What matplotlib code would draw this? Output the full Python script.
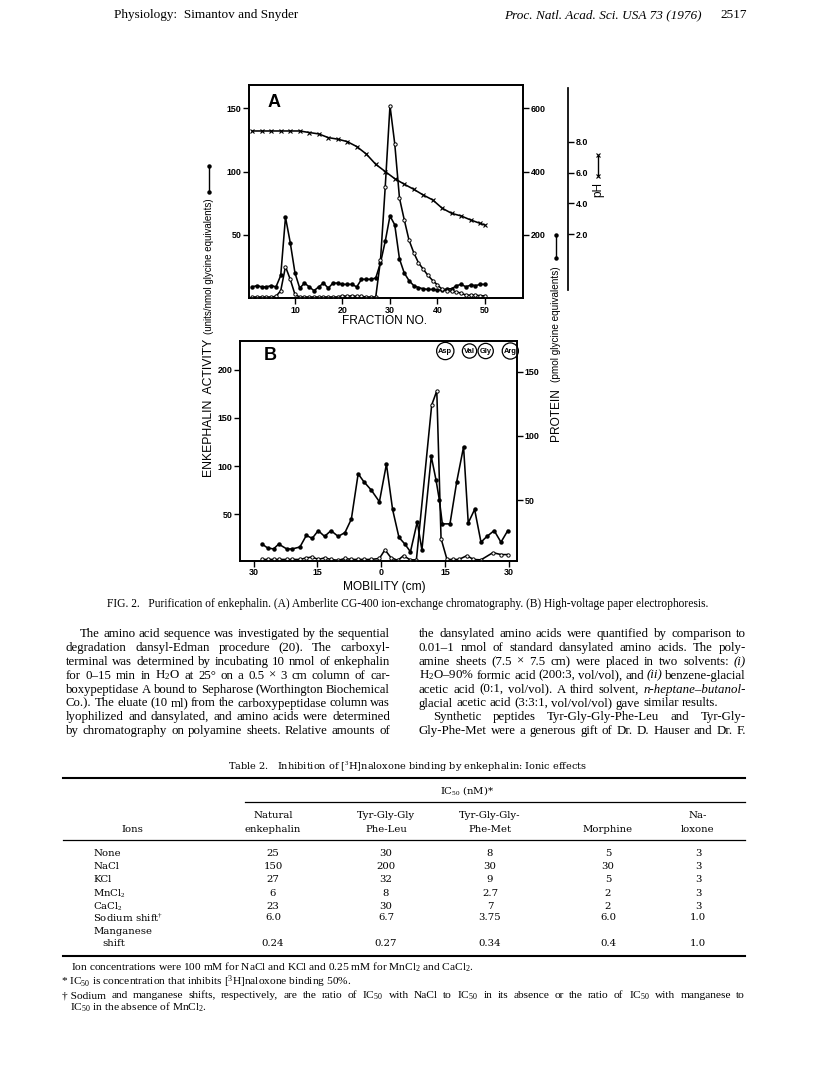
import matplotlib
matplotlib.use("Agg")
import matplotlib.pyplot as plt
from matplotlib.lines import Line2D

plt.rcParams['font.family'] = ['Liberation Sans', 'DejaVu Sans']
plt.rcParams['mathtext.fontset'] = 'custom'
plt.rcParams['mathtext.rm'] = 'Liberation Serif'
plt.rcParams['mathtext.it'] = 'Liberation Serif:italic'
plt.rcParams['mathtext.bf'] = 'Liberation Serif:bold'

# ---------------- data: panel A (ion-exchange chromatography) ----------------
fraction = list(range(1, 51))
enk_A = [9, 10, 9, 9, 10, 9, 18, 64, 44, 20,
         8, 12, 9, 6, 9, 12, 8, 12, 12, 11,
         11, 11, 9, 15, 15, 15, 16, 28, 45, 65,
         58, 31, 20, 14, 10, 8.5, 7.5, 7, 7, 6.5,
         6.5, 7.5, 7.5, 10, 11, 9, 10.5, 10, 11, 11]
prot_A_pmol = [4, 4, 4, 4, 4, 6, 24, 100, 60, 12,
               4, 4, 4, 4, 4, 4, 4, 4, 4, 8,
               6, 8, 6, 6, 4, 4, 4, 120, 352, 608,
               488, 316, 248, 184, 144, 112, 92, 72, 56, 42,
               28, 24, 22, 20, 16, 10, 10, 10, 8, 8]
ph_frac = [1, 3, 5, 7, 9, 11, 13, 15, 17, 19, 21, 23, 25, 27, 29,
           31, 33, 35, 37, 39, 41, 43, 45, 47, 49, 50]
ph_vals = [8.70, 8.70, 8.70, 8.70, 8.70, 8.70, 8.60, 8.51, 8.27, 8.17,
           8.01, 7.69, 7.21, 6.54, 6.07, 5.61, 5.25, 4.92, 4.55, 4.23,
           3.69, 3.36, 3.19, 2.93, 2.71, 2.60]

# ---------------- data: panel B (paper electrophoresis) ----------------
mob_enk = [-28, -26.7, -25.3, -24.1, -22.2, -20.9, -19.1, -17.6, -16.2, -14.8,
           -13.3, -11.8, -10.1, -8.5, -7, -5.4, -4.1, -2.3, -0.4, 1.25,
           2.7, 4.2, 5.6, 6.9, 8.5, 9.6, 11.8, 12.9, 13.7, 14.4,
           16.2, 17.8, 19.4, 20.5, 22.0, 23.5, 24.9, 26.6, 28.2, 29.8]
enk_B = [19, 15, 14, 19, 14, 14, 16, 28, 25, 33,
         27, 33, 27, 31, 45, 92, 84, 75, 63, 102,
         55, 26, 19, 11, 42, 13, 110, 86, 65, 40,
         40, 84, 120, 41, 55, 21, 27, 33, 21, 33]
mob_prot = [-28, -26.7, -25.3, -24.1, -22.2, -20.9, -19.1, -17.6, -16.2, -14.8,
            -13.3, -11.8, -10.1, -8.5, -7, -5.4, -4.1, -2.3, -0.4, 0.9,
            2.3, 3.9, 5.3, 6.8, 8.3, 11.9, 13.1, 14.1, 15.5, 16.9,
            18.3, 20.2, 21.7, 23.5, 26.3, 28.2, 29.8]
prot_B_pmol = [3.7, 3.7, 3.7, 3.7, 3.7, 3.7, 3.7, 4.9, 5.6, 3.7,
               4.9, 3.7, 3.0, 4.5, 3.7, 3.7, 3.7, 3.7, 4.5, 11.2,
               5.2, 3.0, 6.7, 3.4, 3.4, 124, 135, 20, 3.7, 3.7,
               3.7, 6.7, 3.7, 3.4, 9.0, 7.5, 7.5]
amino_names = ['Asp', 'Val', 'Gly', 'Arg']
amino_mob = [15.1, 20.8, 24.6, 30.4]

# ---------------- data: table ----------------
ion_rows = ['None', 'NaCl', 'KCl', 'MnCl$_2$', 'CaCl$_2$', 'Sodium shift$^{\\dagger}$', 'shift']
col_heads = [('Natural', 'enkephalin'), ('Tyr-Gly-Gly', 'Phe-Leu'), ('Tyr-Gly-Gly-', 'Phe-Met'),
             ('', 'Morphine'), ('Na-', 'loxone')]
natural = ['25', '150', '27', '6', '23', '6.0', '0.24']
leu_enk = ['30', '200', '32', '8', '30', '6.7', '0.27']
met_enk = ['8', '30', '9', '2.7', '7', '3.75', '0.34']
morphine = ['5', '30', '5', '2', '2', '6.0', '0.4']
naloxone = ['3', '3', '3', '3', '3', '1.0', '1.0']

left_col = [
    "The amino acid sequence was investigated by the sequential",
    "degradation dansyl-Edman procedure (20). The carboxyl-",
    "terminal was determined by incubating 10 nmol of enkephalin",
    "for 0–15 min in H$_2$O at 25° on a 0.5 × 3 cm column of car-",
    "boxypeptidase A bound to Sepharose (Worthington Biochemical",
    "Co.). The eluate (10 ml) from the carboxypeptidase column was",
    "lyophilized and dansylated, and amino acids were determined",
    "by chromatography on polyamine sheets. Relative amounts of",
]
right_col = [
    "the dansylated amino acids were quantified by comparison to",
    "0.01–1 nmol of standard dansylated amino acids. The poly-",
    "amine sheets (7.5 × 7.5 cm) were placed in two solvents: §(i)",
    "H$_2$O–90% formic acid (200:3, vol/vol), and §(ii) benzene-glacial",
    "acetic acid (0:1, vol/vol). A third solvent, §n-heptane–butanol-",
    "glacial acetic acid (3:3:1, vol/vol/vol) gave similar results.",
    "Synthetic peptides Tyr-Gly-Gly-Phe-Leu and Tyr-Gly-",
    "Gly-Phe-Met were a generous gift of Dr. D. Hauser and Dr. F.",
]

# ---------------- figure ----------------
W, H = 816, 1076
fig = plt.figure(figsize=(W / 100, H / 100), dpi=100)
renderer = fig.canvas.get_renderer()


def fx(px):
    return px / W


def fy(py):
    return 1 - py / H


def rect(l, t, r, b):
    return [fx(l), fy(b), (r - l) / W, (b - t) / H]


SERIF = 'Liberation Serif'
TSERIF = 'DejaVu Serif'
TICKFS = 6.4
LW = 1.15


def style_axes(ax):
    for s in ax.spines.values():
        s.set_linewidth(1.25)
    ax.tick_params(direction='out', length=4, width=1.0, pad=1.5, labelsize=TICKFS)


# ---- Panel A ----
axA = fig.add_axes(rect(249, 85, 523, 298.3))
axA.set_xlim(0.32, 58.0)
axA.set_ylim(0, 168.3)
axA.plot(fraction, enk_A, color='k', lw=LW, marker='o', ms=2.2, mfc='k', mec='k')
axA.set_xticks([10, 20, 30, 40, 50], ['10', '20', '30', '40', '50'], fontweight='bold')
axA.set_yticks([50, 100, 150], ['50', '100', '150'], fontweight='bold')
style_axes(axA)

axA_r = axA.twinx()
axA_r.set_ylim(0, 673.3)
axA_r.plot(fraction, prot_A_pmol, color='k', lw=LW, marker='o', ms=2.4, mfc='white', mec='k', mew=0.7)
axA_r.set_yticks([200, 400, 600], ['200', '400', '600'], fontweight='bold')
style_axes(axA_r)

axA_ph = axA.twinx()
axA_ph.set_ylim(-2.145, 11.68)
axA_ph.plot(ph_frac, ph_vals, color='k', lw=LW, marker='x', ms=3.2, mew=0.8)
axA_ph.axis('off')

# pH scale
axPH = fig.add_axes(rect(540, 88, 568, 290))
axPH.set_ylim((265.2 - 290) / 15.43, (265.2 - 88) / 15.43)
for s in ['left', 'top', 'bottom']:
    axPH.spines[s].set_visible(False)
axPH.spines['right'].set_linewidth(1.25)
axPH.patch.set_visible(False)
axPH.set_xticks([])
axPH.yaxis.tick_right()
axPH.set_yticks([2, 4, 6, 8], ['2.0', '4.0', '6.0', '8.0'], fontweight='bold')
axPH.tick_params(direction='out', length=4, width=1.0, pad=1.5, labelsize=TICKFS)

# ---- Panel B ----
axB = fig.add_axes(rect(240, 340.7, 516.7, 560.7))
axB.set_xlim(-33.2, 31.9)
axB.set_ylim(1.77, 230.2)
axB.plot(mob_enk, enk_B, color='k', lw=LW, marker='o', ms=2.2, mfc='k', mec='k')
axB.set_xticks([-30, -15, 0, 15, 30], ['30', '15', '0', '15', '30'], fontweight='bold')
axB.set_yticks([50, 100, 150, 200], ['50', '100', '150', '200'], fontweight='bold')
style_axes(axB)

axB_r = axB.twinx()
axB_r.set_ylim(2.73, 174.1)
axB_r.plot(mob_prot, prot_B_pmol, color='k', lw=LW, marker='o', ms=2.4, mfc='white', mec='k', mew=0.7)
axB_r.set_yticks([50, 100, 150], ['50', '100', '150'], fontweight='bold')
style_axes(axB_r)

for name, m in zip(amino_names, amino_mob):
    axB.text(m, 219.5, name, ha='center', va='center', fontsize=5.4, fontweight='bold',
             bbox=dict(boxstyle='circle,pad=0.22', fc='white', ec='k', lw=0.9), clip_on=False, zorder=5)

# panel letters and labels
fig.text(fx(274), fy(102.7), 'A', fontsize=13, fontweight='bold', ha='center', va='center')
fig.text(fx(270), fy(355.7), 'B', fontsize=13, fontweight='bold', ha='center', va='center')
fig.text(fx(385), fy(321), 'FRACTION NO.', fontsize=8.6, ha='center', va='center')
fig.text(fx(384), fy(586.7), 'MOBILITY (cm)', fontsize=8.6, ha='center', va='center')

fig.text(fx(209), fy(477), 'ENKEPHALIN  ACTIVITY', rotation=90, rotation_mode='anchor',
         ha='left', va='center', fontsize=8.8)
fig.text(fx(209.5), fy(334), '(units/nmol glycine equivalents)', rotation=90, rotation_mode='anchor',
         ha='left', va='center', fontsize=7.0)
fig.add_artist(Line2D([fx(209.5), fx(209.5)], [fy(192), fy(166)], color='k', lw=1.0,
                      marker='o', ms=2.2, transform=fig.transFigure))

fig.text(fx(555.5), fy(441), 'PROTEIN', rotation=90, rotation_mode='anchor',
         ha='left', va='center', fontsize=8.6)
fig.text(fx(556), fy(382), '(pmol glycine equivalents)', rotation=90, rotation_mode='anchor',
         ha='left', va='center', fontsize=7.2)
fig.add_artist(Line2D([fx(556), fx(556)], [fy(258), fy(235)], color='k', lw=1.0,
                      marker='o', ms=2.2, transform=fig.transFigure))

fig.text(fx(598), fy(197), 'pH', rotation=90, rotation_mode='anchor',
         ha='left', va='center', fontsize=8.5)
fig.add_artist(Line2D([fx(598), fx(598)], [fy(176), fy(155)], color='k', lw=1.0,
                      marker='x', ms=3, mew=0.8, transform=fig.transFigure))


# ---------------- text helpers ----------------
def place_line(text, x0, x1, y, size, family=SERIF, justify=True, min_gap=3.0):
    words = text.split(' ')
    objs = []
    for w in words:
        style = 'normal'
        if w.startswith('§'):
            w = w[1:]
            style = 'italic'
        objs.append(fig.text(fx(x0), fy(y), w.replace('~', ' '), fontsize=size, family=family,
                             style=style, ha='left', va='baseline'))
    widths = [o.get_window_extent(renderer).width for o in objs]
    n = len(objs)
    if justify and n > 1:
        avail = x1 - x0 - min_gap * (n - 1)
        if sum(widths) > avail:
            new = size * avail / sum(widths)
            for o in objs:
                o.set_fontsize(new)
            widths = [o.get_window_extent(renderer).width for o in objs]
        gap = (x1 - x0 - sum(widths)) / (n - 1)
    else:
        gap = size * 100 / 72 * 0.25
    x = x0
    for o, wd in zip(objs, widths):
        o.set_x(fx(x))
        x += wd + gap


# header
fig.text(fx(114), fy(18), 'Physiology:  Simantov and Snyder', fontsize=9.5, family=SERIF,
         ha='left', va='baseline')
fig.text(fx(702), fy(18), 'Proc. Natl. Acad. Sci. USA 73 (1976)', fontsize=9.5, family=SERIF,
         style='italic', ha='right', va='baseline')
fig.text(fx(747), fy(18), '2517', fontsize=9.5, family=SERIF, ha='right', va='baseline')

# caption
fig.text(fx(408), fy(607), 'FIG. 2.   Purification of enkephalin. (A) Amberlite CG-400 ion-exchange '
         'chromatography. (B) High-voltage paper electrophoresis.', fontsize=8.3, family=SERIF,
         ha='center', va='baseline')

# body columns
BODY = 9.3
LS = 13.9
for i, line in enumerate(left_col):
    x0 = 80 if i == 0 else 66
    place_line(line, x0, 390, 637 + i * LS, BODY, justify=True)
for i, line in enumerate(right_col):
    x0 = 433 if i == 6 else 419
    place_line(line, x0, 746, 637 + i * LS, BODY, justify=(i != 5))

# ---------------- table ----------------
fig.text(fx(408), fy(770), 'Table 2.   Inhibition of [$^3$H]naloxone binding by enkephalin: Ionic effects',
         fontsize=7.0, family=TSERIF, ha='center', va='baseline')
TL, TR = 63, 745
for y, l, lw in [(778, TL, 1.5), (802, 245, 0.9), (840, TL, 0.9), (956, TL, 1.5)]:
    fig.add_artist(Line2D([fx(l), fx(TR)], [fy(y), fy(y)], color='k', lw=lw, transform=fig.transFigure))

TFS = 7.3
fig.text(fx(440), fy(790.5), 'IC$_{50}$ (nM)*', fontsize=TFS, family=TSERIF, ha='left', va='center')
fig.text(fx(132), fy(829), 'Ions', fontsize=TFS, family=TSERIF, ha='center', va='center')
col_x = [273, 386, 490, 608, 698]
for cx, (h1, h2) in zip(col_x, col_heads):
    if h1:
        fig.text(fx(cx), fy(816), h1, fontsize=TFS, family=TSERIF, ha='center', va='center')
    fig.text(fx(cx), fy(829), h2, fontsize=TFS, family=TSERIF, ha='center', va='center')

row_y = [853, 866.5, 880, 893.5, 906.5, 918, 944]
for i, (lab, y) in enumerate(zip(ion_rows, row_y)):
    lx = 102 if i == 6 else 93
    fig.text(fx(lx), fy(y), lab, fontsize=TFS, family=TSERIF, ha='left', va='center')
fig.text(fx(93), fy(931), 'Manganese', fontsize=TFS, family=TSERIF, ha='left', va='center')
for cx, col in zip(col_x, [natural, leu_enk, met_enk, morphine, naloxone]):
    for v, y in zip(col, row_y):
        fig.text(fx(cx), fy(y), v, fontsize=TFS, family=TSERIF, ha='center', va='center')

FN = 8.2
fig.text(fx(71), fy(971), 'Ion concentrations were 100 mM for NaCl and KCl and 0.25 mM for MnCl$_2$ and CaCl$_2$.',
         fontsize=FN, family=SERIF, ha='left', va='baseline')
fig.text(fx(61), fy(984.5), '* IC$_{50}$ is concentration that inhibits [$^3$H]naloxone binding 50%.',
         fontsize=FN, family=SERIF, ha='left', va='baseline')
place_line('†~Sodium and manganese shifts, respectively, are the ratio of IC$_{50}$ with NaCl to IC$_{50}$ '
           'in its absence or the ratio of IC$_{50}$ with manganese to', 62, TR, 998, FN, justify=True)
fig.text(fx(70), fy(1010.5), 'IC$_{50}$ in the absence of MnCl$_2$.', fontsize=FN, family=SERIF,
         ha='left', va='baseline')

fig.savefig('out.png', dpi=100)
